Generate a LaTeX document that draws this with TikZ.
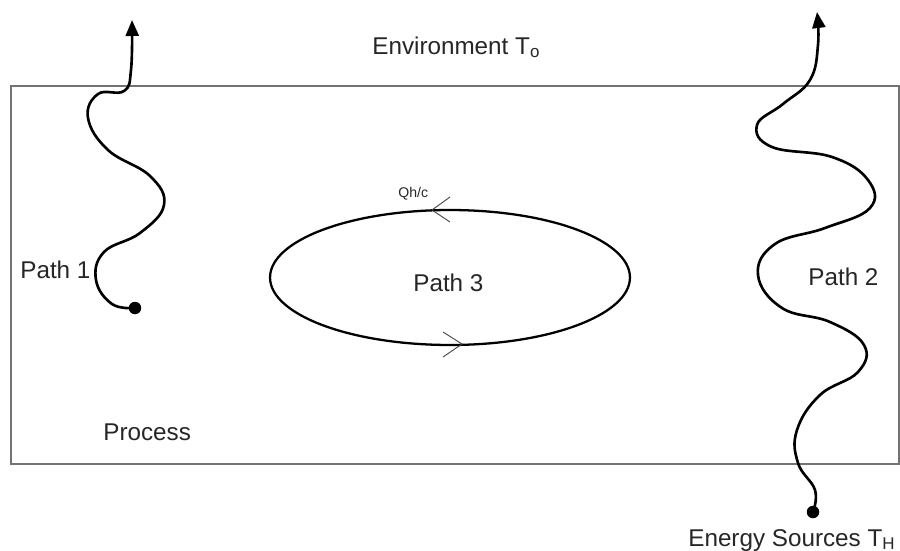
\documentclass[tikz,border=0pt]{standalone}
\usepackage{fontspec}
\setmainfont{Liberation Sans}
\usetikzlibrary{arrows.meta, shapes.geometric}

\begin{document}
\begin{tikzpicture}[x=0.02cm, y=-0.02cm,
    blob/.style={shape=circle, fill, inner sep=0, minimum size=0.25cm},
    wave/.style={line width=1.5pt, -{Triangle[length=3.2mm, width=2.6mm]}},
    chev/.style={line width=0.5pt, black!75},
    lbl/.style={inner sep=0, anchor=base west, text=black!85,
        font=\fontsize{13.8}{16}\selectfont}]

    \useasboundingbox (0,0) rectangle (900,551);

    % Process boundary
    \draw[black!55, line width=1pt] (11,86) rectangle (899,464);

    % Labels
    \node[lbl] (env) at (372,54) {Environment T\textsubscript{o}};
    \node[lbl] (src) at (688,546) {Energy Sources T\textsubscript{H}};
    \node[lbl] (proc) at (103,440) {Process};
    \node[lbl] (lp1) at (20,278) {Path 1};
    \node[lbl] (lp2) at (808,285) {Path 2};
    \node[lbl] (lp3) at (413,291) {Path 3};

    % Path 1
    \node[blob] (start1) at (135,308) {};
    \coordinate (end1) at (132,20);
    \draw[wave] plot[smooth, tension=0.7] coordinates {(start1) (112,304)
        (96,280) (104,252) (140,233) (164,205) (150,176) (108,150) (88,118)
        (98,94) (124,91) (131,70) (end1)};

    % Path 2
    \node[blob] (start2) at (813,512) {};
    \coordinate (end2) at (817,12);
    \draw[wave] plot[smooth, tension=0.7] coordinates {(start2) (815,490)
        (798,463) (797,430) (820,395) (858,372) (864,345) (830,322) (782,308)
        (758,275) (775,244) (825,228) (870,208) (868,180) (832,157) (772,147)
        (757,125) (783,104) (810,80) (818,45) (end2)};

    % Path 3
    \node[draw, ellipse, inner sep=0, line width=1.3pt, minimum width=7.2cm,
        minimum height=2.7cm] (loop) at (450,277.5) {};
    \draw[chev] (450,197) -- (432,210) -- (450,222);
    \draw[chev] (443,332) -- (462,344) -- (443,357);
    \node[inner sep=0, anchor=base west, text=black!85,
        font=\fontsize{8}{9}\selectfont] (q) at (398,197) {Qh/c};

\end{tikzpicture}
\end{document}
